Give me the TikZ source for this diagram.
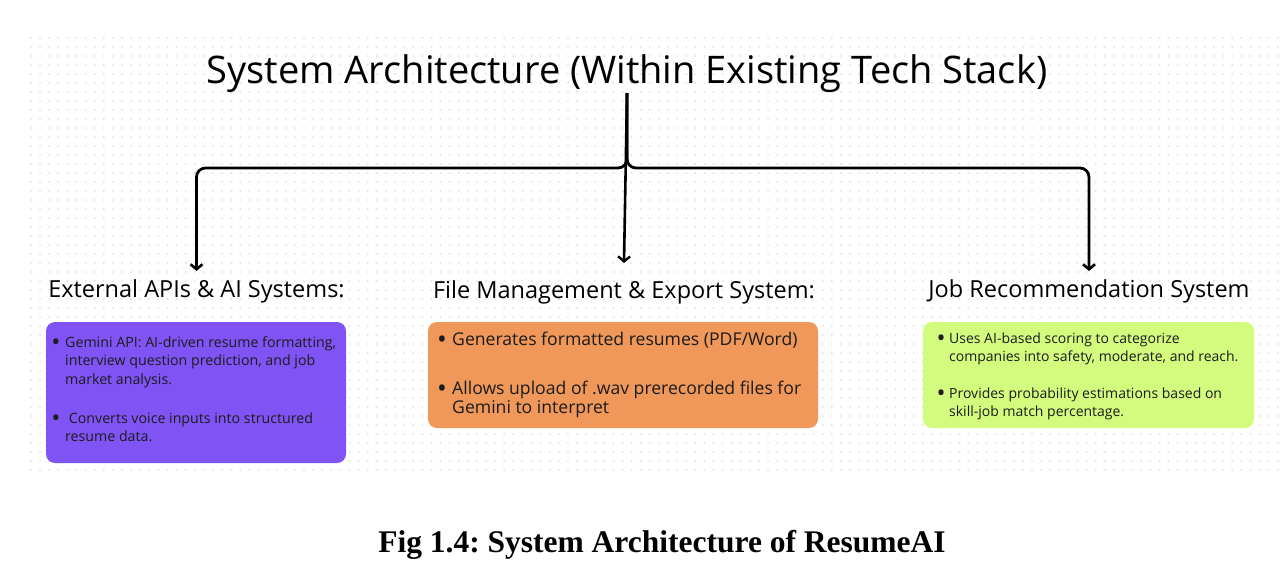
\documentclass[tikz,border=0pt]{standalone}
\usepackage{fontspec}
\usetikzlibrary{arrows.meta}
\newfontfamily\uifont{Open Sans}
\newfontfamily\capfont{Liberation Serif}
\definecolor{dotc}{HTML}{E4E4E4}
\definecolor{purp}{HTML}{8054F4}
\definecolor{oran}{HTML}{F0975A}
\definecolor{lime}{HTML}{D3FB7E}
\definecolor{ink}{HTML}{1C1C1C}
\begin{document}
\begin{tikzpicture}[x=1pt,y=-1pt,
  conn/.style={line width=2.8pt, rounded corners=9pt, -{Straight Barb[length=5pt,width=12pt,line width=2.6pt]}},
  card/.style={rounded corners=9pt, draw=none},
  head/.style={anchor=base, inner sep=0pt, font=\uifont\fontsize{23.5}{27}\selectfont, text=black},
  bul/.style={anchor=base, inner sep=0pt, text=ink},
  lp/.style={anchor=base west, inner sep=0pt, font=\uifont\fontsize{14.2}{17}\selectfont, text=ink},
  lo/.style={anchor=base west, inner sep=0pt, font=\uifont\fontsize{17.6}{20}\selectfont, text=ink},
  lg/.style={anchor=base west, inner sep=0pt, font=\uifont\fontsize{14}{17}\selectfont, text=ink},
  dotrow/.style={draw=dotc, line width=2.2pt, line cap=round, dash pattern=on 0pt off 9.1pt}]
\useasboundingbox (0,0) rectangle (1282,574);
\fill[white] (0,0) rectangle (1282,574);
% dotted canvas
\foreach \j in {0,...,48} {\path[dotrow] (31,38+\j*9) -- (1282,38+\j*9);}
% title
\node[anchor=base, inner sep=0pt, font=\uifont\fontsize{38}{44}\selectfont] (title) at (627,83) {System Architecture (Within Existing Tech Stack)};
% section headings
\node[head] (h1) at (196.5,297) {External APIs \& AI Systems:};
\node[head] (h2) at (624,298) {File Management \& Export System:};
\node[head] (h3) at (1089,297) {Job Recommendation System};
% connectors
\coordinate (top) at (627,93);
\draw[conn] (top) -- (627,168) -| ([yshift=8]h1.north);
\draw[conn] (top) -- (627,168) -| ([yshift=8]h3.north);
\draw[line width=2.6pt, -{Straight Barb[length=5pt,width=12pt,line width=2.4pt]}] (top) -- ([yshift=17]h2.north);
% cards
\path[card, fill=purp] (46,322) rectangle (346,463);
\path[card, fill=oran] (428,322) rectangle (818,428);
\path[card, fill=lime] (923,322) rectangle (1254,428);
% purple card text
\node[bul, font=\uifont\fontsize{24}{25}\selectfont] (pb1) at (56,350) {•};
\node[lp] (p1) at (65,347) {Gemini API: AI-driven resume formatting,};
\node[lp] (p2) at (65,365.5) {interview question prediction, and job};
\node[lp] (p3) at (65,384) {market analysis.};
\node[bul, font=\uifont\fontsize{24}{25}\selectfont] (pb2) at (56,426) {•};
\node[lp] (p4) at (65,423) {\ Converts voice inputs into structured};
\node[lp] (p5) at (65,441) {resume data.};
% orange card text
\node[bul, font=\uifont\fontsize{26}{27}\selectfont] (ob1) at (442,348) {•};
\node[lo] (o1) at (452,345) {Generates formatted resumes (PDF/Word)};
\node[bul, font=\uifont\fontsize{26}{27}\selectfont] (ob2) at (442,397) {•};
\node[lo] (o2) at (452,394) {Allows upload of .wav prerecorded files for};
\node[lo] (o3) at (452,413) {Gemini to interpret};
% green card text
\node[bul, font=\uifont\fontsize{24}{25}\selectfont] (gb1) at (941,346) {•};
\node[lg] (g1) at (949,343) {Uses AI-based scoring to categorize};
\node[lg] (g2) at (949,361) {companies into safety, moderate, and reach.};
\node[bul, font=\uifont\fontsize{24}{25}\selectfont] (gb2) at (941,401) {•};
\node[lg] (g3) at (949,398) {Provides probability estimations based on};
\node[lg] (g4) at (949,416) {skill-job match percentage.};
% caption
\node[anchor=base, inner sep=0pt, font=\capfont\bfseries\fontsize{31.5}{36}\selectfont] (cap) at (662,552) {\frenchspacing Fig 1.4: System Architecture of ResumeAI};
\end{tikzpicture}
\end{document}
